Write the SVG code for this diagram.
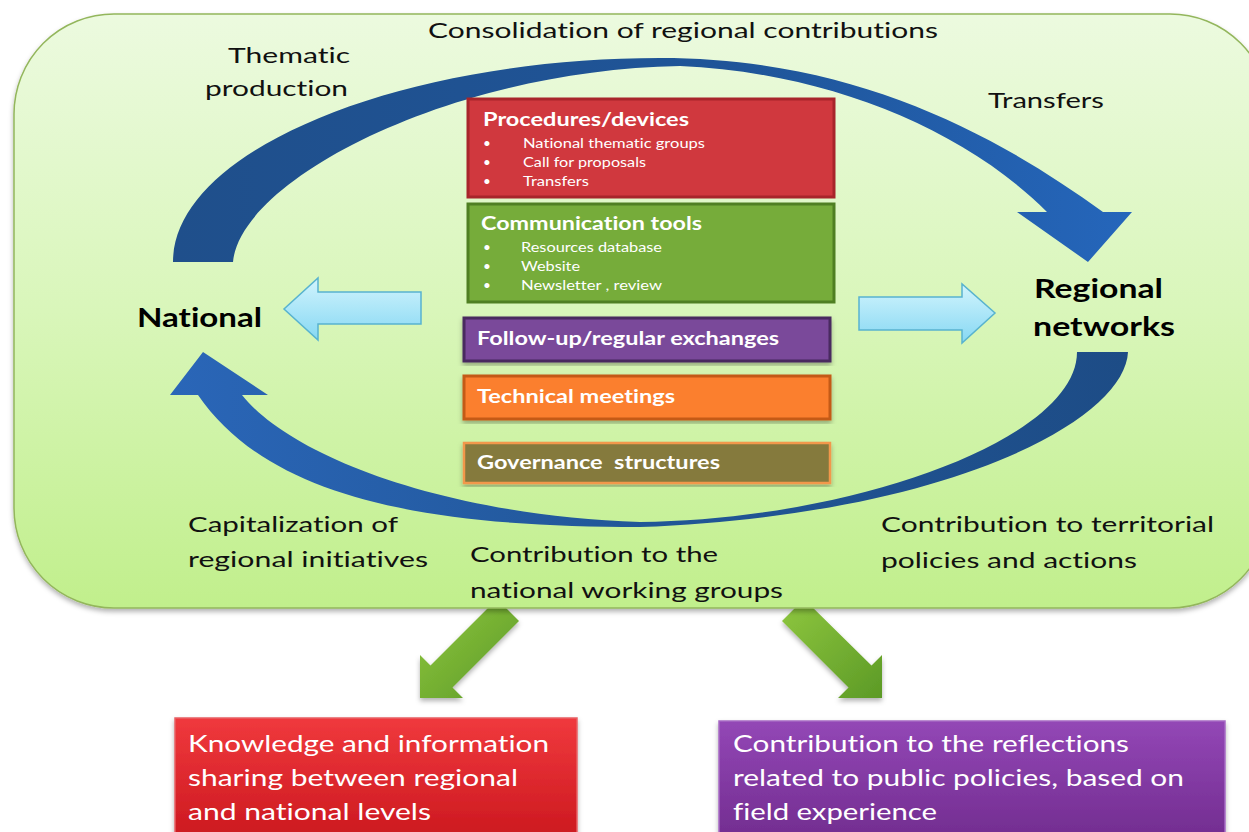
<svg xmlns="http://www.w3.org/2000/svg" width="1249" height="832" viewBox="0 0 1249 832">
<defs>
<linearGradient id="bg" x1="0" y1="0" x2="0" y2="1">
<stop offset="0" stop-color="#ecfadf"/>
<stop offset="0.5" stop-color="#d9f6ba"/>
<stop offset="1" stop-color="#c1ef8c"/>
</linearGradient>
<linearGradient id="topArc" x1="0" y1="0" x2="1" y2="0">
<stop offset="0" stop-color="#1f4f8b"/>
<stop offset="0.6" stop-color="#1f5599"/>
<stop offset="1" stop-color="#2566bb"/>
</linearGradient>
<linearGradient id="botArc" x1="0" y1="0" x2="1" y2="0">
<stop offset="0" stop-color="#2a66b8"/>
<stop offset="0.5" stop-color="#215697"/>
<stop offset="1" stop-color="#1d4c86"/>
</linearGradient>
<linearGradient id="cyan" x1="0" y1="0" x2="0" y2="1">
<stop offset="0" stop-color="#d2f4fd"/>
<stop offset="1" stop-color="#86d8f3"/>
</linearGradient>
<linearGradient id="greenArr" x1="0" y1="0" x2="1" y2="1">
<stop offset="0" stop-color="#8fc73f"/>
<stop offset="1" stop-color="#5c9a26"/>
</linearGradient>
<linearGradient id="redBox" x1="0" y1="0" x2="0" y2="1">
<stop offset="0" stop-color="#f0393d"/>
<stop offset="1" stop-color="#c9161d"/>
</linearGradient>
<linearGradient id="purBox" x1="0" y1="0" x2="0" y2="1">
<stop offset="0" stop-color="#9347b6"/>
<stop offset="1" stop-color="#6f2a8c"/>
</linearGradient>
<filter id="sh" x="-5%" y="-5%" width="110%" height="115%">
<feDropShadow dx="0" dy="3" stdDeviation="2.5" flood-color="#000" flood-opacity="0.3"/>
</filter>
</defs>
<style>
text{font-variant-ligatures:none;font-feature-settings:"liga" 0,"clig" 0,"dlig" 0}
.lbl{font-family:Lato,"Liberation Sans",sans-serif;font-size:22px;fill:#111}
.big{font-family:Lato,"Liberation Sans",sans-serif;font-size:26px;font-weight:bold;fill:#000}
.bt{font-family:Lato,"Liberation Sans",sans-serif;font-size:18px;font-weight:bold;fill:#fff}
.bl{font-family:Lato,"Liberation Sans",sans-serif;font-size:13.5px;fill:#fff}
.bb{font-family:Lato,"Liberation Sans",sans-serif;font-size:24px;fill:#fff}
</style>

<g id="green-arrows">
<polygon fill="url(#greenArr)" filter="url(#sh)" points="497,599 519,621 452.5,687.5 463,698 420,698 420,655 430.5,665.5"/>
<polygon fill="url(#greenArr)" filter="url(#sh)" points="804,599 782,621 848.5,687.5 838,698 882,698 882,655 871.5,665.5"/>
</g>

<g id="frame">
<rect x="14" y="14" width="1256" height="594" rx="100" ry="100" fill="url(#bg)" stroke="#93b65c" stroke-width="1.5" filter="url(#sh)"/>
</g>

<g id="connectors">
<path id="top-arrow" fill="url(#topArc)" d="M173,262 C173,150 400,58 660,58 C850,58 990,130 1103,212 L1132,212 L1088,262 L1017,212 L1047,212 C960,125 820,72 680,66 C450,70 240,180 233,262 Z"/>
<path id="bottom-arrow" fill="url(#botArc)" d="M1128,352 C1125,420 950,515 640,527 C430,527 270,500 198,395 L170,395 L203,352 L268,395 L242,395 C290,455 440,515 640,522 C850,520 1077,440 1077,352 Z"/>
<polygon id="left-cyan" fill="url(#cyan)" stroke="#58b3cf" stroke-width="1.5" points="421,292 421,324 318,324 318,340 284,309 318,278 318,292"/>
<polygon id="right-cyan" fill="url(#cyan)" stroke="#58b3cf" stroke-width="1.5" points="859,297 859,330 962,330 962,343 995,313 962,284 962,297"/>
</g>

<g id="labels">
<text class="lbl" x="428" y="38" textLength="510" lengthAdjust="spacingAndGlyphs">Consolidation of regional contributions</text>
<text class="lbl" x="228" y="63" textLength="122" lengthAdjust="spacingAndGlyphs">Thematic</text>
<text class="lbl" x="205" y="96" textLength="143" lengthAdjust="spacingAndGlyphs">production</text>
<text class="lbl" x="988" y="108" textLength="116" lengthAdjust="spacingAndGlyphs">Transfers</text>
<text class="lbl" x="188" y="532" textLength="210" lengthAdjust="spacingAndGlyphs">Capitalization of</text>
<text class="lbl" x="188" y="567" textLength="240" lengthAdjust="spacingAndGlyphs">regional initiatives</text>
<text class="lbl" x="470" y="562" textLength="248" lengthAdjust="spacingAndGlyphs">Contribution to the</text>
<text class="lbl" x="470" y="598" textLength="313" lengthAdjust="spacingAndGlyphs">national working groups</text>
<text class="lbl" x="881" y="532" textLength="333" lengthAdjust="spacingAndGlyphs">Contribution to territorial</text>
<text class="lbl" x="881" y="568" textLength="256" lengthAdjust="spacingAndGlyphs">policies and actions</text>
</g>

<g id="national">
<text class="big" x="137" y="327" textLength="125" lengthAdjust="spacingAndGlyphs">National</text>
</g>
<g id="regional-networks">
<text class="big" x="1034" y="298" textLength="129" lengthAdjust="spacingAndGlyphs">Regional</text>
<text class="big" x="1033" y="336" textLength="142" lengthAdjust="spacingAndGlyphs">networks</text>
</g>

<g id="procedures">
<rect x="468" y="99" width="366" height="98" fill="#d0383e" stroke="#a8252b" stroke-width="3"/>
<text class="bt" x="483" y="126" font-size="20" textLength="206" lengthAdjust="spacingAndGlyphs">Procedures/devices</text>
<text class="bl" x="483" y="148">•</text><text class="bl" x="523" y="148" textLength="182" lengthAdjust="spacingAndGlyphs">National thematic groups</text>
<text class="bl" x="483" y="167">•</text><text class="bl" x="523" y="167" textLength="123" lengthAdjust="spacingAndGlyphs">Call for proposals</text>
<text class="bl" x="483" y="186">•</text><text class="bl" x="523" y="186" textLength="66" lengthAdjust="spacingAndGlyphs">Transfers</text>
</g>

<g id="communication">
<rect x="468" y="204" width="366" height="98" fill="#76ac3a" stroke="#4f7f22" stroke-width="3"/>
<text class="bt" x="481" y="230" font-size="20" textLength="221" lengthAdjust="spacingAndGlyphs">Communication tools</text>
<text class="bl" x="483" y="252">•</text><text class="bl" x="521" y="252" textLength="141" lengthAdjust="spacingAndGlyphs">Resources database</text>
<text class="bl" x="483" y="271">•</text><text class="bl" x="521" y="271" textLength="59" lengthAdjust="spacingAndGlyphs">Website</text>
<text class="bl" x="483" y="290">•</text><text class="bl" x="521" y="290" textLength="141" lengthAdjust="spacingAndGlyphs">Newsletter , review</text>
</g>

<g id="follow-up">
<rect x="464" y="318" width="366" height="43" fill="#7a4a9a" stroke="#48295f" stroke-width="3" filter="url(#sh)"/>
<text class="bt" x="477" y="345" textLength="302" lengthAdjust="spacingAndGlyphs">Follow-up/regular exchanges</text>
</g>

<g id="technical">
<rect x="464" y="376" width="366" height="43" fill="#fb7f2e" stroke="#c45a17" stroke-width="3" filter="url(#sh)"/>
<text class="bt" x="477" y="403" textLength="198" lengthAdjust="spacingAndGlyphs">Technical meetings</text>
</g>

<g id="governance">
<rect x="464" y="443" width="366" height="40" fill="#857a3e" stroke="#f2984c" stroke-width="2.5" filter="url(#sh)"/>
<text class="bt" x="477" y="469" xml:space="preserve" textLength="243" lengthAdjust="spacingAndGlyphs">Governance  structures</text>
</g>

<g id="knowledge">
<rect x="175" y="718" width="402" height="130" fill="url(#redBox)" stroke="#e86064" stroke-width="1.5" filter="url(#sh)"/>
<text class="bb" x="188" y="752" textLength="361" lengthAdjust="spacingAndGlyphs">Knowledge and information</text>
<text class="bb" x="188" y="786" textLength="330" lengthAdjust="spacingAndGlyphs">sharing between regional</text>
<text class="bb" x="188" y="820" textLength="243" lengthAdjust="spacingAndGlyphs">and national levels</text>
</g>

<g id="reflections">
<rect x="719" y="721" width="506" height="130" fill="url(#purBox)" stroke="#a66ac4" stroke-width="1.5" filter="url(#sh)"/>
<text class="bb" x="733" y="752" textLength="396" lengthAdjust="spacingAndGlyphs">Contribution to the reflections</text>
<text class="bb" x="733" y="786" textLength="451" lengthAdjust="spacingAndGlyphs">related to public policies, based on</text>
<text class="bb" x="733" y="820" textLength="204" lengthAdjust="spacingAndGlyphs">field experience</text>
</g>
</svg>
